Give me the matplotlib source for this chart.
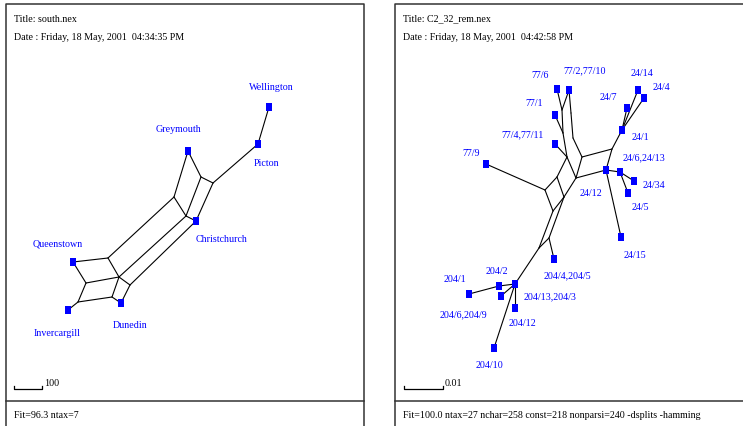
import matplotlib
matplotlib.use("Agg")
import matplotlib.pyplot as plt

# canvas size in pixels (axes use pixel units, y pointing down)
W, H = 743, 426

# ---- left network: south.nex ----
south_labels = ["Wellington", "Picton", "Greymouth", "Christchurch",
                "Queenstown", "Invercargill", "Dunedin"]
# node positions: leaves first, then internal nodes
south_x = [269, 258, 188, 196, 73, 68, 121,
           201, 213, 174, 186, 108, 119, 130, 86, 78, 112]
south_y = [107, 144, 151, 221, 262, 310, 303,
           177, 183, 197, 216, 258, 277, 285, 283, 302, 297]
south_lab_x = [271, 267, 178, 222, 58, 57, 130]
south_lab_y = [87, 163, 129, 239, 244, 333, 326]
south_edges = [(0, 1), (1, 8), (8, 7), (7, 2), (2, 9), (7, 10), (9, 10),
               (8, 3), (10, 3), (9, 11), (10, 12), (3, 13), (11, 4),
               (11, 12), (12, 13), (4, 14), (14, 12), (14, 15), (15, 16),
               (12, 16), (16, 6), (13, 6), (15, 5)]

# ---- right network: C2_32_rem.nex ----
c2_labels = ["77/6", "77/2,77/10", "77/1", "77/4,77/11", "77/9",
             "24/14", "24/4", "24/7", "24/1", "24/12", "24/6,24/13",
             "24/34", "24/5", "24/15", "204/4,204/5", "204/13,204/3",
             "204/2", "204/1", "204/6,204/9", "204/12", "204/10"]
c2_x = [557, 569, 555, 555, 486, 638, 644, 627, 622, 606, 620, 634, 628,
        621, 554, 515, 499, 469, 501, 515, 494,
        562, 571, 563, 573, 567, 582, 576, 612, 557, 545, 564, 553, 549, 539]
c2_y = [89, 90, 115, 144, 164, 90, 98, 108, 130, 170, 172, 181, 193,
        237, 259, 284, 286, 294, 296, 308, 348,
        110, 113, 133, 138, 157, 157, 178, 149, 177, 190, 197, 211, 238, 248]
c2_lab_x = [540, 585, 534, 523, 471, 642, 661, 608, 640, 591, 644, 654,
            640, 635, 567, 550, 497, 455, 463, 522, 489]
c2_lab_y = [75, 71, 103, 135, 153, 73, 88, 98, 137, 193, 158, 185, 207,
            255, 276, 297, 272, 280, 315, 324, 366]
c2_edges = [(0, 21), (1, 21), (1, 22), (21, 23), (22, 24), (2, 23),
            (23, 25), (24, 26), (3, 25), (25, 27), (26, 27), (26, 28),
            (27, 9), (28, 9), (28, 8), (8, 7), (8, 5), (8, 6), (9, 10),
            (10, 11), (10, 12), (9, 13), (25, 29), (29, 30), (4, 30),
            (29, 31), (27, 31), (30, 32), (31, 32), (31, 33), (32, 34),
            (33, 34), (33, 14), (34, 15), (15, 16), (16, 17), (15, 18),
            (15, 19), (15, 20)]

panels = [
    dict(x0=6, x1=364, title="Title: south.nex",
         date="Date : Friday, 18 May, 2001  04:34:35 PM",
         foot="Fit=96.3 ntax=7", scale="100", bar=(14, 42),
         xs=south_x, ys=south_y, lx=south_lab_x, ly=south_lab_y,
         labels=south_labels, edges=south_edges),
    dict(x0=395, x1=746, title="Title: C2_32_rem.nex",
         date="Date : Friday, 18 May, 2001  04:42:58 PM",
         foot="Fit=100.0 ntax=27 nchar=258 const=218 nonparsi=240 -dsplits -hamming",
         scale="0.01", bar=(404, 443),
         xs=c2_x, ys=c2_y, lx=c2_lab_x, ly=c2_lab_y,
         labels=c2_labels, edges=c2_edges),
]

plt.rcParams['font.family'] = ['Liberation Serif', 'DejaVu Serif']
fig = plt.figure(figsize=(W / 100, H / 100), dpi=100)
ax = fig.add_axes([0, 0, 1, 1])
ax.set_xlim(0, W)
ax.set_ylim(H, 0)
ax.axis("off")

rect_marker = [(-0.31, -0.5), (0.31, -0.5), (0.31, 0.5), (-0.31, 0.5)]
blue = "#0000ff"
fs = 7.2

for p in panels:
    # frame and footer separator
    ax.plot([p["x0"], p["x0"], p["x1"], p["x1"]], [H + 2, 4, 4, H + 2],
            color="#333333", lw=1.1, clip_on=False)
    ax.plot([p["x0"], p["x1"]], [401, 401], color="#333333", lw=1.1)
    tx = p["x0"] + 8
    ax.text(tx, 19, p["title"], fontsize=fs, ha="left", va="center")
    ax.text(tx, 38, p["date"], fontsize=fs, ha="left", va="center")
    ax.text(tx, 416, p["foot"], fontsize=fs, ha="left", va="center")

    # scale bar
    b0, b1 = p["bar"]
    ax.plot([b0, b0, b1, b1], [386, 389, 389, 386], color="black", lw=0.9)
    ax.text(b1 + 2, 384, p["scale"], fontsize=fs, ha="left", va="center")

    # splits graph
    xs, ys = p["xs"], p["ys"]
    for a, b in p["edges"]:
        ax.plot([xs[a], xs[b]], [ys[a], ys[b]], color="black", lw=0.8,
                solid_capstyle="round")
    n = len(p["labels"])
    ax.scatter(xs[:n], ys[:n], marker=rect_marker, s=36, color=blue,
               linewidths=0, zorder=3)
    for i, lab in enumerate(p["labels"]):
        ax.text(p["lx"][i], p["ly"][i], lab, fontsize=fs, color=blue,
                ha="center", va="center")

fig.savefig("out.png", dpi=100)
